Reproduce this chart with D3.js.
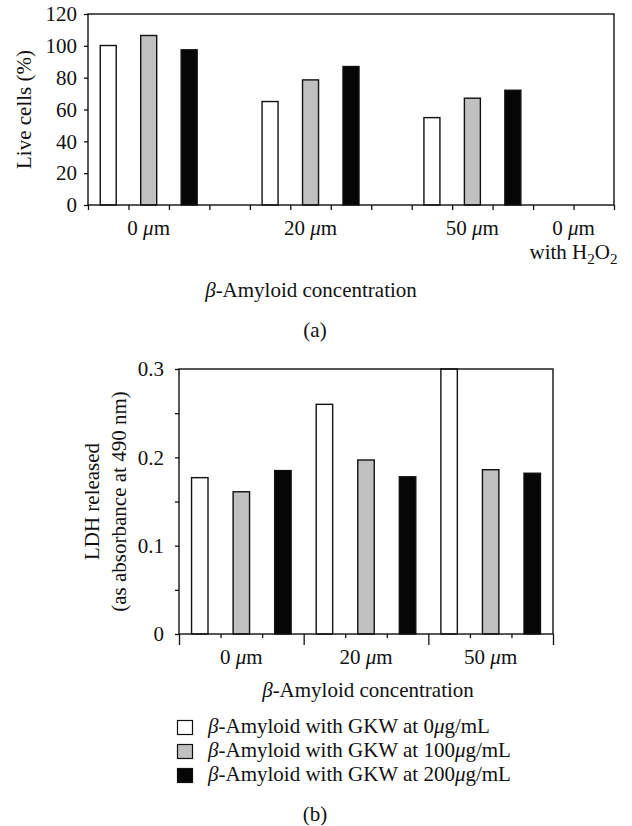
<!DOCTYPE html>
<html>
<head>
<meta charset="utf-8">
<script src="https://cdn.jsdelivr.net/npm/d3@7"></script>
<style>
  body { margin: 0; background: #fff; }
  text { font-family: "Liberation Serif", "DejaVu Serif", serif; font-size: 21px; fill: #111; }
</style>
</head>
<body>
<svg id="fig" width="632" height="826"></svg>
<script>
// (a) live cells, % of control
const groupsA = ["0 μm", "20 μm", "50 μm", "0 μm|with H_2O_2"];
const liveGKW0 = [100.2, 65.0, 54.9];
const liveGKW100 = [106.5, 78.6, 67.1];
const liveGKW200 = [97.5, 87.0, 72.1];
const yTicksA = [0, 20, 40, 60, 80, 100, 120];

// (b) LDH released
const groupsB = ["0 μm", "20 μm", "50 μm"];
const ldhGKW0 = [0.177, 0.260, 0.300];
const ldhGKW100 = [0.161, 0.197, 0.186];
const ldhGKW200 = [0.185, 0.178, 0.182];
const yTicksB = [0, 0.1, 0.2, 0.3];

const seriesNames = [
    "β-Amyloid with GKW at 0μg/mL",
    "β-Amyloid with GKW at 100μg/mL",
    "β-Amyloid with GKW at 200μg/mL"
];
const seriesFill = ["#ffffff", "#c0c0c0", "#060606"];

const svg = d3.select("#fig");

// greek letters in italics, "_2" as subscript
function rich(sel, str){
    const parts = str.match(/_\w|[βμ]|[^_βμ]+/g);
    let shifted = false;
    parts.forEach(p => {
        const t = sel.append("tspan");
        if (p[0] === "_") {
            t.attr("font-size", "0.72em").attr("dy", shifted ? 0 : 5).text(p[1]);
            shifted = true;
            return;
        }
        if (shifted) { t.attr("dy", -5); shifted = false; }
        if (/[βμ]/.test(p)) t.attr("font-style", "italic");
        t.text(p);
    });
    return sel;
}

function frame(g, x0, x1, y0, y1){
    g.append("rect")
        .attr("x", x0).attr("y", y0)
        .attr("width", x1 - x0).attr("height", y1 - y0)
        .attr("fill", "none").attr("stroke", "#111").attr("stroke-width", 1.4);
}

function styleAxis(ax){
    ax.select(".domain").remove();
    ax.selectAll(".tick line").attr("stroke", "#111").attr("stroke-width", 1.3);
    ax.selectAll("text").attr("font-size", 21).attr("fill", "#111").attr("font-family", null);
}

// ---------- panel (a) ----------
{
    const L = 88, R = 614, T = 14, B = 205;
    const nSlots = 13;
    const xLin = d3.scaleLinear().domain([0, nSlots]).range([L, R]);
    const xBand = d3.scaleBand().domain(d3.range(nSlots)).range([L, R]).paddingInner(0.58).paddingOuter(0.29);
    const y = d3.scaleLinear().domain([0, 120]).range([B, T]);

    const bars = [];
    [liveGKW0, liveGKW100, liveGKW200].forEach((vals, s) => {
        vals.forEach((v, g) => bars.push({slot: g * 4 + s, v, s}));
    });

    const g = svg.append("g");
    g.selectAll("rect.bar").data(bars).enter().append("rect")
        .attr("class", "bar")
        .attr("x", d => xBand(d.slot) + 0.5)
        .attr("width", xBand.bandwidth() - 1)
        .attr("y", d => y(d.v))
        .attr("height", d => y(0) - y(d.v))
        .attr("fill", d => seriesFill[d.s])
        .attr("stroke", "#111").attr("stroke-width", 1.4);

    frame(g, L, R, T, B);

    g.append("g").attr("transform", `translate(${L},0)`)
        .call(d3.axisLeft(y).tickValues(yTicksA).tickSize(4).tickPadding(7))
        .call(styleAxis);

    g.append("g").attr("transform", `translate(0,${B})`)
        .call(d3.axisBottom(xLin).tickValues(d3.range(nSlots + 1)).tickSize(5).tickFormat(""))
        .call(styleAxis);

    groupsA.forEach((lab, i) => {
        const cx = xLin(Math.min(i * 4 + 1.5, 12));
        lab.split("|").forEach((line, k) => {
            rich(g.append("text").attr("x", cx).attr("y", 235 + k * 24).attr("text-anchor", "middle"), line);
        });
    });

    g.append("text").attr("text-anchor", "middle")
        .attr("transform", `translate(31,${(T + B) / 2}) rotate(-90)`)
        .text("Live cells (%)");

    rich(g.append("text").attr("x", 311).attr("y", 297).attr("text-anchor", "middle"), "β-Amyloid concentration");
    g.append("text").attr("x", 315).attr("y", 337).attr("text-anchor", "middle").text("(a)");
}

// ---------- panel (b) ----------
{
    const L = 179, R = 553, T = 369, B = 634;
    const nSlots = 9;
    const xLin = d3.scaleLinear().domain([0, nSlots]).range([L, R]);
    const xBand = d3.scaleBand().domain(d3.range(nSlots)).range([L, R]).paddingInner(0.58).paddingOuter(0.29);
    const y = d3.scaleLinear().domain([0, 0.3]).range([B, T]);

    const bars = [];
    [ldhGKW0, ldhGKW100, ldhGKW200].forEach((vals, s) => {
        vals.forEach((v, g) => bars.push({slot: g * 3 + s, v, s}));
    });

    const g = svg.append("g");
    g.selectAll("rect.bar").data(bars).enter().append("rect")
        .attr("class", "bar")
        .attr("x", d => xBand(d.slot) + 0.5)
        .attr("width", xBand.bandwidth() - 1)
        .attr("y", d => y(Math.min(d.v, 0.3)))
        .attr("height", d => y(0) - y(Math.min(d.v, 0.3)))
        .attr("fill", d => seriesFill[d.s])
        .attr("stroke", "#111").attr("stroke-width", 1.4);

    frame(g, L, R, T, B);

    // minor ticks every 0.05, labels on the tenths
    g.append("g").attr("transform", `translate(${L},0)`)
        .call(d3.axisLeft(y).tickValues(d3.range(0, 0.3001, 0.05)).tickSize(4).tickPadding(11)
            .tickFormat(d => yTicksB.some(t => Math.abs(t - d) < 1e-6) ? (d === 0 ? "0" : d3.format(".1f")(d)) : ""))
        .call(styleAxis);

    const xAxis = g.append("g").attr("transform", `translate(0,${B})`)
        .call(d3.axisBottom(xLin).tickValues(d3.range(nSlots + 1)).tickSize(4).tickFormat(""))
        .call(styleAxis);
    xAxis.selectAll(".tick line").filter(d => d % 3 === 0).attr("y2", 11);

    groupsB.forEach((lab, i) => {
        rich(g.append("text").attr("x", xLin(i * 3 + 1.5)).attr("y", 664).attr("text-anchor", "middle"), lab);
    });

    g.append("text").attr("text-anchor", "middle")
        .attr("transform", `translate(99,${(T + B) / 2}) rotate(-90)`)
        .text("LDH released");
    g.append("text").attr("text-anchor", "middle")
        .attr("transform", `translate(126,${(T + B) / 2}) rotate(-90)`)
        .text("(as absorbance at 490 nm)");

    rich(g.append("text").attr("x", 368).attr("y", 697).attr("text-anchor", "middle"), "β-Amyloid concentration");

    const legend = g.append("g").attr("transform", "translate(177,720)");
    seriesNames.forEach((name, i) => {
        legend.append("rect")
            .attr("x", 0.5).attr("y", i * 24 + 0.5)
            .attr("width", 15).attr("height", 14)
            .attr("fill", seriesFill[i]).attr("stroke", "#111").attr("stroke-width", 1.2);
        rich(legend.append("text").attr("x", 31).attr("y", i * 24 + 13).attr("font-size", 21.6), name);
    });

    g.append("text").attr("x", 315).attr("y", 821).attr("text-anchor", "middle").text("(b)");
}
</script>
</body>
</html>
